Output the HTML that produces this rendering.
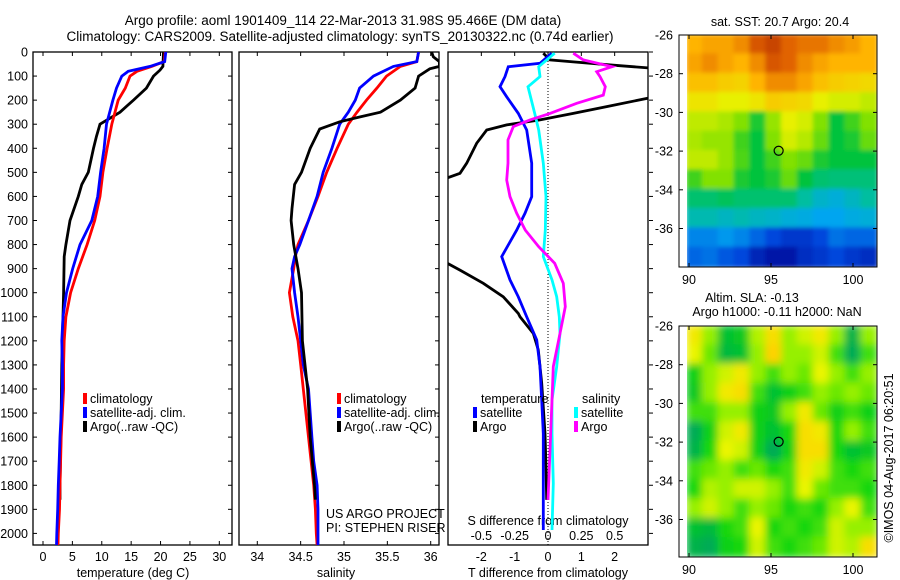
<!DOCTYPE html>
<html><head><meta charset="utf-8">
<style>
html,body{margin:0;padding:0;background:#fff;}
svg{display:block;font-family:"Liberation Sans",Arial,sans-serif;}
text{fill:#000;font-size:12.5px;}
</style></head>
<body>
<svg id="fig" width="900" height="580" viewBox="0 0 900 580" xmlns="http://www.w3.org/2000/svg">
<defs>
<filter id="blurS" x="-5%" y="-5%" width="110%" height="110%"><feGaussianBlur stdDeviation="2"/></filter>
<filter id="blurL" x="-5%" y="-5%" width="110%" height="110%"><feGaussianBlur stdDeviation="4"/></filter>
<clipPath id="clipTop"><rect x="687" y="35" width="190" height="232"/></clipPath>
<clipPath id="clipBot"><rect x="687" y="326" width="190" height="231"/></clipPath>
<clipPath id="clipP1"><rect x="33" y="52" width="199" height="493"/></clipPath>
<clipPath id="clipP2"><rect x="239" y="52" width="200" height="493"/></clipPath>
<clipPath id="clipP3"><rect x="448" y="52" width="200" height="493"/></clipPath>
</defs>
<text x="343" y="25" text-anchor="middle" style="font-size:13.5px">Argo profile: aoml 1901409_114 22-Mar-2013 31.98S 95.466E (DM data)</text>
<text x="340" y="41" text-anchor="middle" style="font-size:13.5px">Climatology: CARS2009. Satellite-adjusted climatology: synTS_20130322.nc (0.74d earlier)</text>
</svg>
<script>
// ---------- data ----------
const depthClimT = [0,40,60,80,100,150,200,300,400,500,600,700,800,900,1000,1100,1200,1300,1400,1500,1600,1700,1800,1900,2000,2050];
const tempClim   = [20.8,20.6,18.5,16.0,14.8,14.0,12.8,11.7,10.9,10.2,9.7,8.8,7.5,6.0,4.7,3.9,3.6,3.5,3.5,3.3,3.1,3.0,2.9,2.8,2.6,2.55];
const tempSat    = [20.9,20.7,18.2,14.5,13.4,12.5,11.9,10.8,10.4,9.8,9.3,8.3,6.3,5.05,4.0,3.4,3.2,3.3,3.3,3.1,2.9,2.75,2.6,2.5,2.35,2.3];
const depthArgo  = [0,60,75,100,150,200,250,300,350,400,500,550,600,700,800,850,1000,1100,1300,1500,1800,1860];
const tempArgo   = [20.5,20.4,19.9,18.8,17.6,15.4,13.1,9.7,9.1,8.6,7.7,6.6,6.0,4.6,3.9,3.6,3.5,3.4,3.2,3.1,2.9,2.9];

const depthSal   = [0,40,60,100,150,200,250,300,400,500,600,700,800,850,900,1000,1100,1200,1300,1400,1500,1600,1700,1800,1900,2000,2050];
const salClim    = [35.86,35.84,35.65,35.49,35.38,35.26,35.15,35.05,34.92,34.80,34.70,34.59,34.47,34.44,34.42,34.37,34.41,34.47,34.50,34.53,34.56,34.59,34.62,34.65,34.67,34.68,34.69];
const salSat     = [35.86,35.84,35.57,35.34,35.18,35.13,35.05,34.95,34.86,34.76,34.69,34.59,34.49,34.43,34.40,34.43,34.47,34.50,34.53,34.59,34.61,34.63,34.65,34.69,34.70,34.70,34.70];
const depthSalArgo = [0,20,40,60,70,100,150,200,250,270,290,320,400,500,550,650,700,800,900,1000,1200,1400,1600,1800,1860];
const salArgo    = [36.01,36.03,36.1,36.1,35.99,35.86,35.82,35.65,35.42,35.18,34.95,34.72,34.61,34.51,34.43,34.40,34.39,34.42,34.47,34.51,34.52,34.58,34.61,34.66,34.67];

const depthDT = [5,47,61,102,144,186,255,324,462,601,670,740,850,947,1017,1100,1196,1307,1446,1585,1723,1986];
const dTsat   = [0.11,-0.24,-1.19,-1.29,-1.44,-1.24,-0.89,-0.64,-0.49,-0.49,-0.69,-0.94,-1.39,-1.14,-0.89,-0.64,-0.34,-0.24,-0.19,-0.14,-0.14,-0.14];
const depthDTA = [5,33,41,55,68,120,186,227,255,282,303,324,379,462,504,532,600,800,864,906,961,1017,1086,1100,1169,1238,1376,1584,1723,1861];
const dTargo   = [-0.14,0.06,0.76,1.96,3.2,3.4,3.2,1.76,0.76,-0.24,-1.24,-1.84,-2.14,-2.44,-2.64,-3.2,-3.4,-3.4,-3.2,-2.64,-1.94,-1.34,-0.89,-0.84,-0.44,-0.29,-0.19,-0.09,-0.06,-0.04];
const depthDS = [5,33,61,102,144,255,324,462,601,740,850,947,1017,1100,1169,1307,1446,1585,1792,1986];
const dSsat   = [0.05,-0.01,-0.07,-0.06,-0.15,-0.10,-0.07,-0.035,-0.015,-0.02,-0.035,0.03,0.065,0.085,0.09,0.065,0.03,0.03,0.04,0.03];
const depthDSA = [5,33,61,82,102,144,179,213,255,282,310,365,462,532,601,670,740,809,878,961,1058,1100,1196,1307,1446,1654,1861];
const dSargo   = [0.19,0.265,0.48,0.365,0.39,0.43,0.415,0.215,0.015,-0.135,-0.26,-0.30,-0.30,-0.31,-0.285,-0.235,-0.17,-0.07,0.05,0.115,0.13,0.115,0.08,0.04,0.03,0.015,0.0];

const depthTicks = [0,100,200,300,400,500,600,700,800,900,1000,1100,1200,1300,1400,1500,1600,1700,1800,1900,2000];
const tempTicks = [0,5,10,15,20,25,30];
const salTicks = [34,34.5,35,35.5,36];
const salTickLabels = ['34','34.5','35','35.5','36'];
const dTTicks = [-2,-1,0,1,2];
const dSTicks = [-0.5,-0.25,0,0.25,0.5];
const dSTickLabels = ['-0.5','-0.25','0','0.25','0.5'];

const sstGrid = [
[0.80,0.82,0.82,0.85,0.92,0.95,0.90,0.88,0.88,0.85,0.83,0.80],
[0.82,0.85,0.82,0.80,0.85,0.92,0.90,0.85,0.82,0.80,0.80,0.80],
[0.78,0.78,0.76,0.75,0.80,0.85,0.85,0.82,0.78,0.76,0.75,0.74],
[0.72,0.72,0.70,0.70,0.72,0.76,0.75,0.74,0.70,0.68,0.68,0.66],
[0.66,0.66,0.64,0.60,0.52,0.62,0.70,0.68,0.60,0.50,0.55,0.60],
[0.64,0.62,0.62,0.55,0.50,0.60,0.68,0.65,0.58,0.50,0.52,0.58],
[0.66,0.66,0.62,0.56,0.50,0.55,0.60,0.58,0.52,0.50,0.50,0.50],
[0.55,0.60,0.60,0.52,0.50,0.52,0.58,0.50,0.45,0.44,0.44,0.44],
[0.45,0.45,0.47,0.45,0.45,0.45,0.45,0.40,0.35,0.33,0.36,0.40],
[0.38,0.38,0.36,0.38,0.36,0.35,0.33,0.32,0.30,0.30,0.32,0.33],
[0.25,0.25,0.28,0.25,0.20,0.15,0.12,0.12,0.15,0.22,0.20,0.20],
[0.20,0.22,0.18,0.15,0.08,0.05,0.05,0.10,0.12,0.15,0.12,0.10]];
const slaGrid = [
[0.80,0.60,0.30,0.35,0.65,0.85,0.60,0.70,0.80,0.60,0.20,0.60],
[0.75,0.55,0.25,0.30,0.60,0.90,0.60,0.60,0.70,0.50,0.15,0.50],
[0.40,0.60,0.70,0.80,0.60,0.50,0.60,0.55,0.75,0.60,0.50,0.60],
[0.35,0.60,0.80,0.85,0.50,0.30,0.40,0.50,0.60,0.55,0.60,0.55],
[0.50,0.50,0.60,0.60,0.40,0.35,0.60,0.80,0.55,0.40,0.50,0.40],
[0.15,0.40,0.70,0.80,0.40,0.30,0.45,0.85,0.80,0.45,0.60,0.50],
[0.20,0.45,0.75,0.70,0.40,0.15,0.40,0.85,0.85,0.45,0.30,0.35],
[0.50,0.55,0.60,0.50,0.55,0.45,0.50,0.80,0.70,0.50,0.45,0.50],
[0.45,0.65,0.60,0.70,0.70,0.60,0.50,0.75,0.55,0.50,0.50,0.45],
[0.60,0.70,0.60,0.50,0.60,0.55,0.45,0.50,0.45,0.60,0.75,0.50],
[0.30,0.25,0.45,0.50,0.75,0.45,0.50,0.45,0.50,0.70,0.60,0.60],
[0.20,0.15,0.40,0.45,0.70,0.50,0.45,0.50,0.55,0.70,0.65,0.85]];
const latTicks = [-26,-28,-30,-32,-34,-36];
const lonTicks = [90,95,100];
const argoLon = 95.466, argoLat = -31.98;

// ---------- helpers ----------
const svg = document.getElementById('fig');
const NS = 'http://www.w3.org/2000/svg';
function mk(tag, attrs, parent){const e=document.createElementNS(NS,tag);for(const k in attrs)e.setAttribute(k,attrs[k]);(parent||svg).appendChild(e);return e;}
const yD = d => 52 + d*0.2407;
const xT = t => 43 + t*5.877;
const xS = s => 257.3 + (s-34)*86.7;
const xDT = v => 548 + v*33.33;
const xDS = v => 548 + v*133.3;

function line(xs, ds, fx, color, clip, name){
  const pts = xs.map((v,i)=>fx(v).toFixed(1)+','+yD(ds[i]).toFixed(1)).join(' ');
  const p = mk('polyline',{points:pts,fill:'none',stroke:color,'stroke-width':2.8,'stroke-linejoin':'miter','clip-path':'url(#'+clip+')'});
  
  
}
function txt(x,y,s,opt){const t=mk('text',Object.assign({x:x,y:y},opt||{}));t.textContent=s;return t;}
function frame(x0,x1,name){
  const r = mk('rect',{x:x0,y:52,width:x1-x0,height:493,fill:'none',stroke:'#000','stroke-width':1.3});
  
  
}

// ---------- panel 1: temperature ----------
frame(33,232,'temperature-panel-frame');
depthTicks.forEach(d=>{
  const l = txt(28,yD(d)+4.5,String(d),{'text-anchor':'end'});
  
  
  mk('line',{x1:33,y1:yD(d),x2:37,y2:yD(d),stroke:'#000'});
  mk('line',{x1:228,y1:yD(d),x2:232,y2:yD(d),stroke:'#000'});
});
tempTicks.forEach(t=>{
  mk('line',{x1:xT(t),y1:52,x2:xT(t),y2:56,stroke:'#000'});
  mk('line',{x1:xT(t),y1:541,x2:xT(t),y2:545,stroke:'#000'});
  const l = txt(xT(t),561,String(t),{'text-anchor':'middle'});
  
  
});
txt(133,577,'temperature (deg C)',{'text-anchor':'middle',});
line(tempArgo, depthArgo, xT, '#000', 'clipP1', 'temperature-argo-line');
line(tempClim, depthClimT, xT, '#f00', 'clipP1', 'temperature-climatology-line');
line(tempSat, depthClimT, xT, '#00f', 'clipP1', 'temperature-satellite-line');

// ---------- panel 2: salinity ----------
frame(239,439,'salinity-panel-frame');
salTicks.forEach((s,i)=>{
  mk('line',{x1:xS(s),y1:52,x2:xS(s),y2:56,stroke:'#000'});
  mk('line',{x1:xS(s),y1:541,x2:xS(s),y2:545,stroke:'#000'});
  const l = txt(xS(s),561,salTickLabels[i],{'text-anchor':'middle'});
  
  
});
depthTicks.forEach(d=>{ mk('line',{x1:435,y1:yD(d),x2:439,y2:yD(d),stroke:'#000'}); });
txt(336,577,'salinity',{'text-anchor':'middle',});
line(salClim, depthSal, xS, '#f00', 'clipP2', 'salinity-climatology-line');
line(salSat, depthSal, xS, '#00f', 'clipP2', 'salinity-satellite-line');
line(salArgo, depthSalArgo, xS, '#000', 'clipP2', 'salinity-argo-line');

// ---------- panel 3: differences ----------
frame(448,648,'difference-panel-frame');
mk('line',{x1:548,y1:52,x2:548,y2:545,stroke:'#000','stroke-width':1,'stroke-dasharray':'1,2',});
dTTicks.forEach(v=>{
  mk('line',{x1:xDT(v),y1:52,x2:xDT(v),y2:56,stroke:'#000'});
  const l = txt(xDT(v),561,String(v),{'text-anchor':'middle'});
  
  
});
dSTicks.forEach((v,i)=>{
  const l = txt(xDS(v),540,dSTickLabels[i],{'text-anchor':'middle'});
  
  
});
depthTicks.forEach(d=>{ mk('line',{x1:649,y1:yD(d),x2:653,y2:yD(d),stroke:'#000'}); });
txt(548,525,'S difference from climatology',{'text-anchor':'middle',});
txt(548,577,'T difference from climatology',{'text-anchor':'middle',});
line(dTargo, depthDTA, xDT, '#000', 'clipP3', 'tdiff-argo-line');
line(dTsat, depthDT, xDT, '#00f', 'clipP3', 'tdiff-satellite-line');
line(dSsat, depthDS, xDS, '#0ff', 'clipP3', 'sdiff-satellite-line');
line(dSargo, depthDSA, xDS, '#f0f', 'clipP3', 'sdiff-argo-line');

// ---------- legends ----------
function legend(x,y,color,label,name){
  const g = mk('g',{});
  
  
  mk('rect',{x:x,y:y-10,width:4,height:11,fill:color},g);
  const t = mk('text',{x:x+7,y:y},g); t.textContent=label;
}
legend(83,403,'#f00','climatology','temp-legend-climatology');
legend(83,417,'#00f','satellite-adj. clim.','temp-legend-satellite');
legend(83,431,'#000','Argo(..raw -QC)','temp-legend-argo');
legend(337,403,'#f00','climatology','sal-legend-climatology');
legend(337,417,'#00f','satellite-adj. clim.','sal-legend-satellite');
legend(337,431,'#000','Argo(..raw -QC)','sal-legend-argo');
txt(481,403,'temperature',{});
legend(473,417,'#00f','satellite','diff-legend-t-satellite');
legend(473,431,'#000','Argo','diff-legend-t-argo');
txt(582,403,'salinity',{});
legend(574,417,'#0ff','satellite','diff-legend-s-satellite');
legend(574,431,'#f0f','Argo','diff-legend-s-argo');
txt(326,518,'US ARGO PROJECT',{});
txt(326,532,'PI: STEPHEN RISER',{});

// ---------- maps ----------
function lerpColor(stops, v){
  v=Math.max(0,Math.min(1,v));
  for(let i=1;i<stops.length;i++){ if(v<=stops[i][0]){
    const a=stops[i-1],b=stops[i],f=(v-a[0])/(b[0]-a[0]);
    const c=[0,1,2].map(k=>Math.round(a[1][k]+(b[1][k]-a[1][k])*f));
    return 'rgb('+c.join(',')+')'; } }
  const l=stops[stops.length-1][1]; return 'rgb('+l.join(',')+')';
}
const sstStops=[[0,[0,0,140]],[0.15,[0,70,220]],[0.3,[0,165,240]],[0.4,[0,190,160]],[0.5,[0,195,60]],[0.6,[130,225,0]],[0.7,[232,240,0]],[0.8,[255,180,0]],[0.9,[225,100,0]],[1,[175,35,0]]];
const slaStops=[[0,[10,150,120]],[0.25,[0,185,60]],[0.45,[20,215,10]],[0.6,[150,240,0]],[0.75,[235,245,0]],[0.9,[255,210,0]],[1,[255,200,0]]];

function drawMap(grid, stops, top, clip, blur, name){
  const mx0=687, mw=190, mh=(top===35?232:231), nr=grid.length, nc=grid[0].length;
  const g = mk('g',{'clip-path':'url(#'+clip+')'});
  
  
  const gi = mk('g',{filter:'url(#'+blur+')'},g);
  const cw=mw/nc, ch=mh/nr;
  grid.forEach((row,r)=>row.forEach((v,c)=>{
    const cell = mk('rect',{x:(mx0+c*cw-1).toFixed(1),y:(top+r*ch-1).toFixed(1),width:(cw+2).toFixed(1),height:(ch+2).toFixed(1),fill:lerpColor(stops,v)},gi);
    
    
  }));
  mk('rect',{x:679,y:top,width:198,height:mh,fill:'none',stroke:'#000','stroke-width':1});
  const latY = la => top + (-26-la)*19.35;
  const lonX = lo => 689 + (lo-90)*16.4;
  latTicks.forEach(la=>{
    mk('line',{x1:679,y1:latY(la),x2:683,y2:latY(la),stroke:'#000'});
    mk('line',{x1:873,y1:latY(la),x2:877,y2:latY(la),stroke:'#000'});
    const l = txt(673,latY(la)+4.5,String(la),{'text-anchor':'end'});
    
    
  });
  lonTicks.forEach(lo=>{
    mk('line',{x1:lonX(lo),y1:top+mh,x2:lonX(lo),y2:top+mh-4,stroke:'#000'});
    mk('line',{x1:lonX(lo),y1:top,x2:lonX(lo),y2:top+4,stroke:'#000'});
    const l = txt(lonX(lo),top+mh+17,String(lo),{'text-anchor':'middle'});
    
    
  });
  const m = mk('circle',{cx:lonX(argoLon),cy:latY(argoLat),r:4.5,fill:'none',stroke:'#000','stroke-width':1.2});
  
  
}
drawMap(sstGrid, sstStops, 35, 'clipTop', 'blurS', 'sst-map');
drawMap(slaGrid, slaStops, 326, 'clipBot', 'blurL', 'sla-map');
txt(780,26,'sat. SST: 20.7 Argo: 20.4',{'text-anchor':'middle',});
txt(752,302,'Altim. SLA: -0.13',{'text-anchor':'middle',});
txt(777,316,'Argo h1000: -0.11 h2000: NaN',{'text-anchor':'middle',});
txt(0,0,'©IMOS 04-Aug-2017 06:20:51',{'text-anchor':'middle','transform':'translate(893,458) rotate(-90)',});
</script>
</body></html>
